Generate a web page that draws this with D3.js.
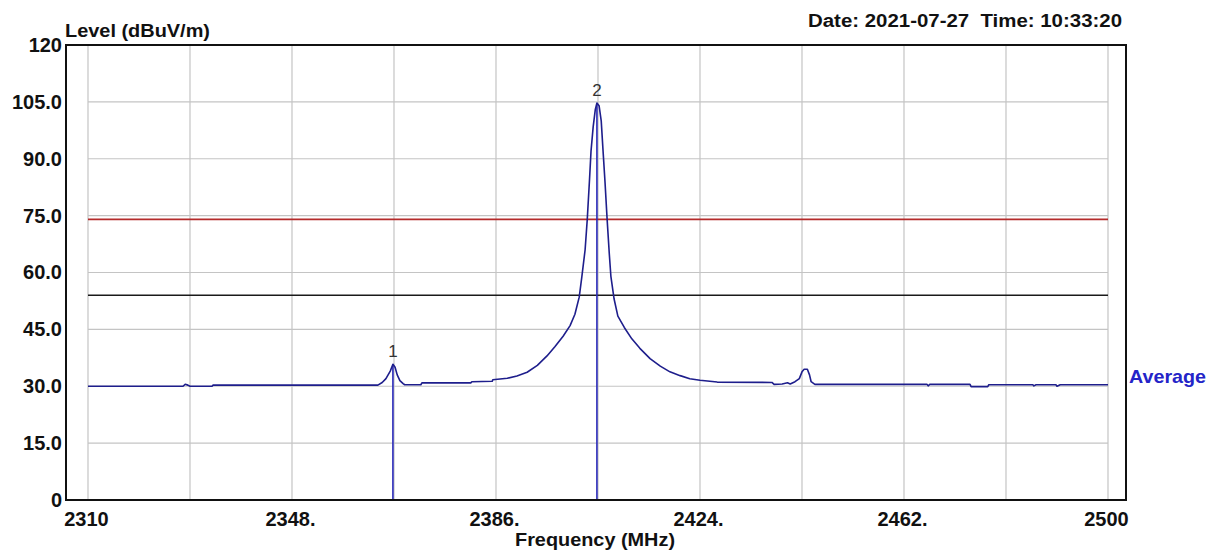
<!DOCTYPE html>
<html><head><meta charset="utf-8">
<script src="https://cdn.jsdelivr.net/npm/d3@7/dist/d3.min.js"></script>
<style>
body{margin:0;background:#fff}
svg{display:block}
text{font-family:"Liberation Sans",Arial,Helvetica,sans-serif}
</style>
</head><body>
<svg id="chart" width="1217" height="553"></svg>
<script>
// ---- data ----
const freqs = [2310.0,2327.7,2328.1,2328.6,2329.0,2333.1,2333.3,2364.0,2364.8,2365.5,2366.3,2366.8,2367.2,2367.6,2368.1,2368.7,2369.0,2372.0,2372.2,2381.3,2381.5,2385.3,2385.4,2388.1,2389.9,2391.8,2393.7,2395.5,2397.0,2398.5,2399.8,2400.7,2401.5,2402.0,2402.6,2403.0,2403.4,2403.7,2404.1,2404.5,2404.8,2405.2,2405.6,2405.9,2406.3,2406.7,2407.1,2407.4,2408.0,2408.7,2409.9,2411.3,2412.8,2414.7,2416.6,2418.4,2420.3,2422.1,2424.0,2427.2,2437.4,2437.8,2439.3,2440.3,2440.8,2441.7,2442.5,2443.0,2443.4,2444.0,2444.4,2444.7,2445.4,2466.3,2466.5,2466.8,2474.3,2474.5,2477.6,2477.8,2486.0,2486.2,2486.6,2490.3,2490.5,2491.1,2500.0];
const levels = [30.0,30.0,30.5,30.3,30.0,30.0,30.3,30.3,31.0,32.0,34.0,35.8,35.0,33.0,31.5,30.7,30.4,30.4,30.9,30.9,31.2,31.3,31.7,32.1,32.7,33.7,35.5,38.0,40.5,43.2,46.0,49.0,53.5,59.0,66.0,74.0,84.0,92.0,98.4,103.0,104.7,104.0,100.0,93.0,84.0,74.0,65.0,59.0,53.0,48.5,45.5,42.5,40.0,37.3,35.3,33.8,32.8,32.0,31.6,31.1,31.0,30.5,30.6,30.9,30.6,31.2,32.0,33.8,34.5,34.5,33.0,31.2,30.5,30.5,30.1,30.5,30.5,29.9,29.9,30.4,30.4,30.1,30.4,30.4,30.0,30.4,30.4];

const yTickValues = [0,15,30,45,60,75,90,105,120];
const yTickLabels = ["0","15.0","30.0","45.0","60.0","75.0","90.0","105.0","120"];
const xTickValues = [2310,2348,2386,2424,2462,2500];
const xTickLabels = ["2310","2348.","2386.","2424.","2462.","2500"];
const xGridValues = [2310,2329,2348,2367,2386,2405,2424,2443,2462,2481,2500];
const yGridValues = [15,30,45,60,75,90,105];

const limitLevels = [74, 54];
const limitColors = ["#b42a2a", "#1a1a1a"];

const markerFreqs = [2366.8, 2404.8];
const markerLevels = [35.8, 104.7];
const markerLabels = ["1", "2"];

const yTitle = "Level (dBuV/m)";
const xTitle = "Frequency (MHz)";
const dateText = "Date: 2021-07-27  Time: 10:33:20";
const traceName = "Average";

// ---- layout ----
const svg = d3.select("#chart");
const frame = {left: 66, right: 1126, top: 45, bottom: 500};
const x = d3.scaleLinear().domain([2310, 2500]).range([88, 1108]);
const y = d3.scaleLinear().domain([0, 120]).range([frame.bottom, frame.top]);

// grid
svg.append("g").selectAll("line").data(xGridValues).join("line")
  .attr("x1", d => x(d)).attr("x2", d => x(d))
  .attr("y1", frame.top).attr("y2", frame.bottom)
  .attr("stroke", "#c4c4c4").attr("stroke-width", 1.2);
svg.append("g").selectAll("line").data(yGridValues).join("line")
  .attr("x1", x(2310)).attr("x2", x(2500))
  .attr("y1", d => y(d)).attr("y2", d => y(d))
  .attr("stroke", "#c4c4c4").attr("stroke-width", 1.2);

// limit lines
svg.append("g").selectAll("line").data(limitLevels).join("line")
  .attr("x1", x(2310)).attr("x2", x(2500))
  .attr("y1", d => y(d)).attr("y2", d => y(d))
  .attr("stroke", (d, i) => limitColors[i]).attr("stroke-width", 1.7);

// marker lines
svg.append("g").selectAll("line").data(markerFreqs).join("line")
  .attr("x1", d => x(d)).attr("x2", d => x(d))
  .attr("y1", (d, i) => y(markerLevels[i])).attr("y2", frame.bottom)
  .attr("stroke", "#2a2ab8").attr("stroke-width", 1.6);

// trace
const pts = freqs.map((f, i) => [f, levels[i]]);
svg.append("path").datum(pts)
  .attr("fill", "none").attr("stroke", "#1e1e8c").attr("stroke-width", 1.6)
  .attr("stroke-linejoin", "round")
  .attr("d", d3.line().x(d => x(d[0])).y(d => y(d[1])));

// marker labels
svg.append("g").selectAll("text").data(markerFreqs).join("text")
  .attr("x", d => x(d)).attr("y", (d, i) => y(markerLevels[i]) - 7)
  .attr("text-anchor", "middle").attr("font-size", 17).attr("fill", "#333")
  .text((d, i) => markerLabels[i]);

// frame
svg.append("rect")
  .attr("x", frame.left).attr("y", frame.top)
  .attr("width", frame.right - frame.left).attr("height", frame.bottom - frame.top)
  .attr("fill", "none").attr("stroke", "#111").attr("stroke-width", 2);

// axes
const yAxis = d3.axisLeft(y).tickValues(yTickValues)
  .tickFormat((d, i) => yTickLabels[i]).tickSize(0).tickPadding(4);
const gy = svg.append("g").attr("transform", `translate(${frame.left},0)`).call(yAxis);
gy.select(".domain").remove();
gy.selectAll("text").attr("font-size", 20).attr("font-weight", "bold")
  .attr("fill", "#111").attr("font-family", "Liberation Sans, Arial, sans-serif");

const xAxis = d3.axisBottom(x).tickValues(xTickValues)
  .tickFormat((d, i) => xTickLabels[i]).tickSize(0).tickPadding(12);
const gx = svg.append("g").attr("transform", `translate(0,${frame.bottom})`).call(xAxis);
gx.select(".domain").remove();
gx.selectAll("text").attr("font-size", 20).attr("font-weight", "bold")
  .attr("fill", "#111").attr("dx", -2).attr("font-family", "Liberation Sans, Arial, sans-serif");

// titles
svg.append("text").attr("x", 65).attr("y", 37).attr("font-size", 18).attr("font-weight", "bold")
  .attr("fill", "#111").attr("textLength", 145).attr("lengthAdjust", "spacingAndGlyphs").text(yTitle);
svg.append("text").attr("x", 515).attr("y", 546).attr("font-size", 18).attr("font-weight", "bold")
  .attr("fill", "#111").attr("textLength", 160).attr("lengthAdjust", "spacingAndGlyphs").text(xTitle);
svg.append("text").attr("x", 808).attr("y", 27).attr("font-size", 18).attr("font-weight", "bold")
  .attr("fill", "#111").style("white-space", "pre")
  .attr("textLength", 314).attr("lengthAdjust", "spacingAndGlyphs").text(dateText);
svg.append("text").attr("x", 1129).attr("y", y(levels[levels.length - 1]) - 2)
  .attr("font-size", 19).attr("font-weight", "bold").attr("fill", "#2424c8")
  .attr("textLength", 77).attr("lengthAdjust", "spacingAndGlyphs").text(traceName);
</script>
</body></html>
